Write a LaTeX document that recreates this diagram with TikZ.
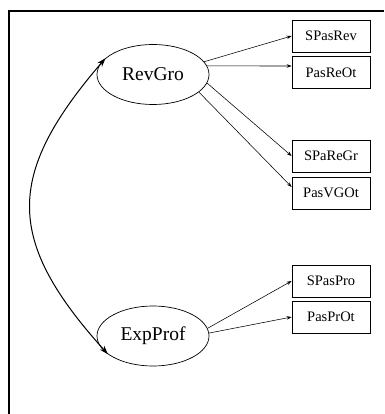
\documentclass[tikz,border=0pt]{standalone}
\usepackage{fontspec}
\setmainfont{Liberation Serif}
\usetikzlibrary{arrows.meta,shapes.geometric}
\begin{document}
\begin{tikzpicture}[x=1pt,y=-1pt,
 latent/.style={ellipse,draw,line width=0.7pt,minimum width=112pt,minimum height=60pt,inner sep=0pt,font=\fontsize{19.5}{20}\selectfont},
 obs/.style={rectangle,draw,line width=0.7pt,minimum width=78pt,minimum height=32pt,inner sep=0pt,font=\fontsize{14.5}{15}\selectfont},
 load/.style={line width=0.55pt,-{Stealth[length=5pt,width=3.5pt]}},
 cov/.style={line width=1pt,{Stealth[length=9pt,width=6pt]}-{Stealth[length=9pt,width=6pt]}},
 frame/.style={line width=2pt}]
\useasboundingbox (0,0) rectangle (384,414);
\coordinate (fbl) at (9,414);
\coordinate (ftl) at (9,11);
\coordinate (ftr) at (384,11);
\draw[frame] (fbl) -- (ftl) -- (ftr);

\node[latent] (rev) at (153,74.5) {RevGro};
\node[latent] (exp) at (153,336) {ExpProf};

\node[obs] (spasrev) at (331,36) {SPasRev};
\node[obs] (pasreot) at (331,72.5) {PasReOt};
\node[obs] (sparegr) at (331,156) {SPaReGr};
\node[obs] (pasvgot) at (331,193) {PasVGOt};
\node[obs] (spaspro) at (331,281) {SPasPro};
\node[obs] (pasprot) at (331,317) {PasPrOt};

\draw[load] (rev.14) -- (spasrev.west);
\draw[load] (rev.9) -- ([yshift=6.5pt]pasreot.west);
\draw[load] (rev.-9) -- (sparegr.west);
\draw[load] (rev.-21) -- ([yshift=6pt]pasvgot.west);
\draw[load] (exp.8) -- (spaspro.west);
\draw[load] (exp.3) -- (pasprot.west);

\draw[cov] (rev.161) .. controls (5,175) and (5,240) .. (exp.202);
\end{tikzpicture}
\end{document}
